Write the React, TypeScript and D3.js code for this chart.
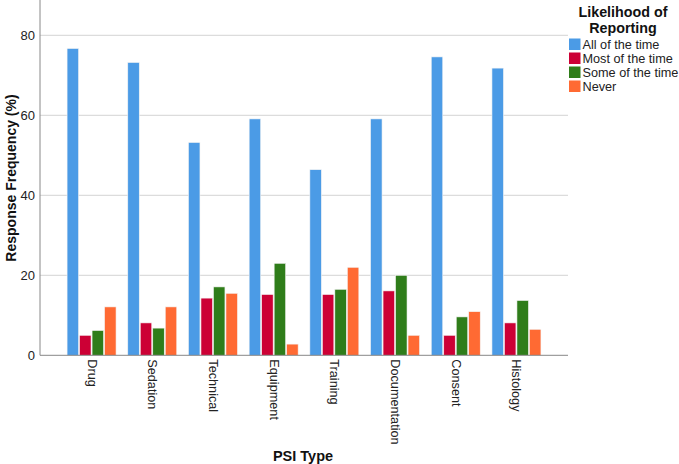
import React from "react";
import * as d3 from "d3";

const categories = ["Drug", "Sedation", "Technical", "Equipment", "Training", "Documentation", "Consent", "Histology"];
const seriesNames = ["All of the time", "Most of the time", "Some of the time", "Never"];
const allOfTheTime = [76.7, 73.2, 53.2, 59.1, 46.4, 59.1, 74.6, 71.8];
const mostOfTheTime = [5.0, 8.1, 14.3, 15.2, 15.2, 16.1, 5.0, 8.1];
const someOfTheTime = [6.2, 6.8, 17.1, 23.0, 16.5, 20.0, 9.6, 13.7];
const never = [12.1, 12.1, 15.5, 2.8, 22.0, 5.0, 10.9, 6.5];
const yTicks = [0, 20, 40, 60, 80];
const colors = ["#4B9BE6", "#CC0035", "#2F7D1A", "#FF6A33"];

const seriesValues = [allOfTheTime, mostOfTheTime, someOfTheTime, never];

export default function App() {
  const W = 679, H = 464;
  const left = 40, right = 568, bottom = 355.3;
  const x = d3.scaleBand<string>().domain(categories).range([left, right]).paddingInner(0.193).paddingOuter(0.446);
  const xs = d3.scaleBand<string>().domain(seriesNames).range([0, x.bandwidth()]).paddingInner(0.08);
  const y = d3.scaleLinear().domain([0, 80]).range([bottom, 35.3]);
  const font = "Arial, 'Liberation Sans', sans-serif";

  return (
    <svg width={W} height={H} style={{ position: "absolute", left: 0, top: 0, background: "#fff" }} fontFamily={font}>
      {yTicks.filter(t => t > 0).map(t => (
        <line key={t} x1={left} x2={right} y1={y(t)} y2={y(t)} stroke="#dcdcdc" strokeWidth={1.3} />
      ))}
      {categories.map((c, i) => (
        <g key={c}>
          {seriesValues.map((vals, s) => (
            <rect key={s}
              x={(x(c) as number) + (xs(seriesNames[s]) as number)}
              y={y(vals[i])}
              width={xs.bandwidth()}
              height={bottom - y(vals[i])}
              fill={colors[s]}
              stroke="#f4f4f4" strokeWidth={0.6} />
          ))}
          <text transform={`translate(${(x(c) as number) + x.bandwidth() / 2},${bottom + 4}) rotate(90)`}
            fontSize={12.7} dominantBaseline="central" textAnchor="start" fill="#222">{c}</text>
        </g>
      ))}
      <line x1={left} x2={left} y1={0} y2={bottom} stroke="#888" strokeWidth={1} />
      <line x1={left} x2={right} y1={bottom} y2={bottom} stroke="#888" strokeWidth={1} />
      {yTicks.map(t => (
        <text key={t} x={35} y={y(t)} textAnchor="end" dominantBaseline="central" fontSize={13} fill="#222">{t}</text>
      ))}
      <text transform={`translate(11,178) rotate(-90)`} textAnchor="middle" dominantBaseline="central" fontSize={14} fontWeight="bold" fill="#111">Response Frequency (%)</text>
      <text x={303} y={461} textAnchor="middle" fontSize={14.5} fontWeight="bold" fill="#111">PSI Type</text>
      <text x={623} y={17} textAnchor="middle" fontSize={14.3} fontWeight="bold" fill="#111">Likelihood of</text>
      <text x={623} y={33} textAnchor="middle" fontSize={14.3} fontWeight="bold" fill="#111">Reporting</text>
      {seriesNames.map((n, s) => (
        <g key={n}>
          <rect x={569} y={38.5 + s * 14} width={11.5} height={11.5} fill={colors[s]} />
          <text x={582.5} y={44.5 + s * 14} dominantBaseline="central" fontSize={12.7} fill="#222">{n}</text>
        </g>
      ))}
    </svg>
  );
}
